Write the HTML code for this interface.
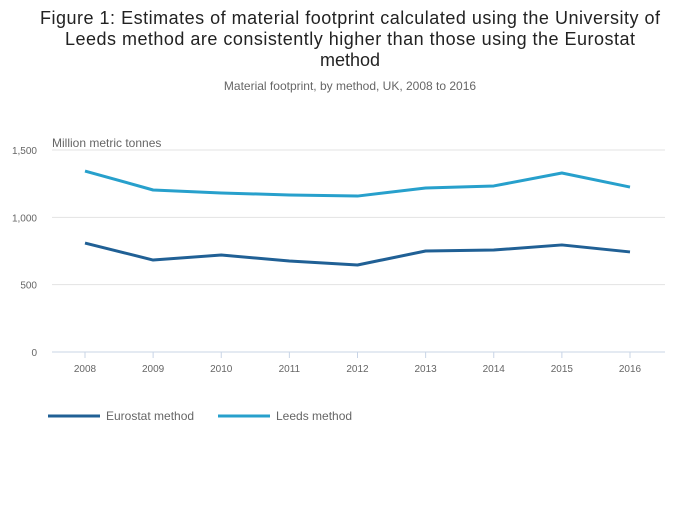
<!DOCTYPE html>
<html><head><meta charset="utf-8"><style>
body{margin:0;background:#fff;font-family:"Liberation Sans",sans-serif;}
svg text{font-family:"Liberation Sans",sans-serif;}
</style></head><body>
<svg width="700" height="502">
<text x="350" y="24" text-anchor="middle" font-size="18" textLength="620" fill="#222">Figure 1: Estimates of material footprint calculated using the University of</text>
<text x="350" y="45" text-anchor="middle" font-size="18" textLength="570" fill="#222">Leeds method are consistently higher than those using the Eurostat</text>
<text x="350" y="66" text-anchor="middle" font-size="18" fill="#222">method</text>
<text x="350" y="90" text-anchor="middle" font-size="12" fill="#666">Material footprint, by method, UK, 2008 to 2016</text>
<text x="52" y="147" font-size="12" fill="#666">Million metric tonnes</text>
<g id="grid"></g><g id="lines"></g>
<g>
<line x1="48" y1="416" x2="100" y2="416" stroke="#206095" stroke-width="3"/>
<text x="106" y="420" font-size="12" fill="#666">Eurostat method</text>
<line x1="218" y1="416" x2="270" y2="416" stroke="#27a0cc" stroke-width="3"/>
<text x="276" y="420" font-size="12" fill="#666">Leeds method</text>
</g>
</svg>
<script>
const years=["2008","2009","2010","2011","2012","2013","2014","2015","2016"];
const eurostat=[809,683,720,676,646,750,757,795,743];
const leeds=[1344,1203,1181,1166,1158,1218,1233,1329,1225];
const yTicks=[0,500,1000,1500];
const yTickLabels=["0","500","1,000","1,500"];
const NS="http://www.w3.org/2000/svg";
const x=i=>85+i*(630-85)/(years.length-1);
const y=v=>352-v*(202/1500);
const grid=document.getElementById('grid'),lines=document.getElementById('lines');
function mk(tag,attrs,parent){const e=document.createElementNS(NS,tag);for(const k in attrs)e.setAttribute(k,attrs[k]);parent.appendChild(e);return e;}
yTicks.forEach((t,i)=>{
 const l=mk('line',{x1:52,x2:665,y1:y(t),y2:y(t),stroke:t===0?'#c8d4e6':'#e3e3e3','stroke-width':1},grid);
 
 
 const tx=mk('text',{x:37,y:y(t)+4,'text-anchor':'end','font-size':10,fill:'#666'},grid);
 tx.textContent=yTickLabels[i];
 
 
});
years.forEach((yr,i)=>{
 const tk=mk('line',{x1:x(i),x2:x(i),y1:352,y2:358,stroke:'#c8d4e6'},grid);
 
 
 const tx=mk('text',{x:x(i),y:372,'text-anchor':'middle','font-size':10,fill:'#666'},grid);
 tx.textContent=yr;
 
 
});
function series(vals,color,name){
 const p=mk('polyline',{points:vals.map((v,i)=>x(i)+','+y(v)).join(' '),fill:'none',stroke:color,'stroke-width':3,'stroke-linejoin':'round'},lines);
 
 
}
series(eurostat,'#206095','eurostat-line');
series(leeds,'#27a0cc','leeds-line');
</script>
</body></html>
